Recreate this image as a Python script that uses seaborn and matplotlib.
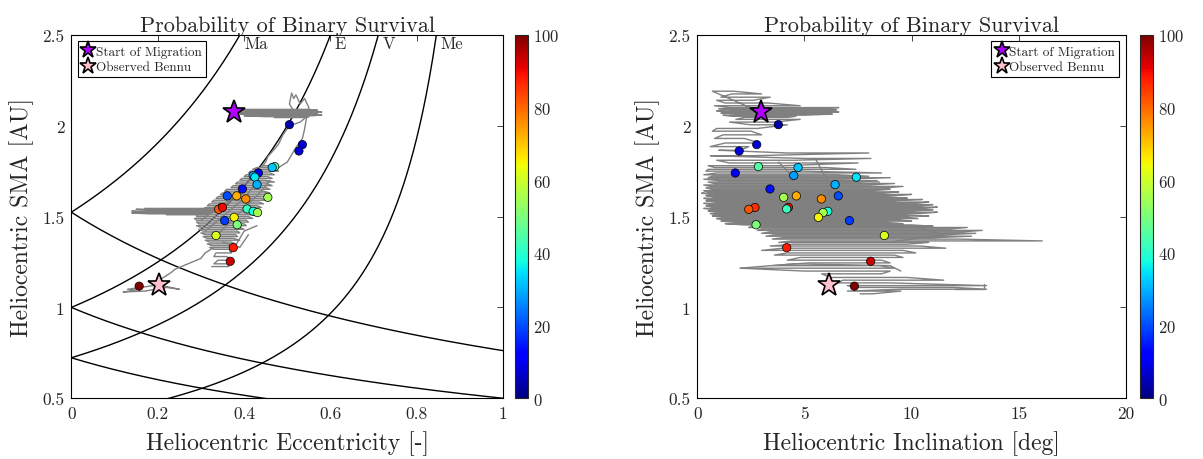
import numpy as np
import pandas as pd
import matplotlib
matplotlib.use("Agg")
import matplotlib.pyplot as plt
import seaborn as sns

# planet semi-major axes [AU] for the crossing curves
planet_names = ["Ma", "E", "V", "Me"]
planet_sma = [1.524, 1.0, 0.723, 0.387]

# survival probability points (same objects in both panels)
pt_sma = [2.006, 1.896, 1.861, 1.775, 1.770, 1.740, 1.726, 1.717, 1.676, 1.652,
          1.614, 1.614, 1.597, 1.606, 1.550, 1.540, 1.551, 1.542, 1.529, 1.522,
          1.496, 1.478, 1.455, 1.396, 1.329, 1.254, 1.117]
pt_ecc = [0.505, 0.535, 0.527, 0.471, 0.465, 0.433, 0.421, 0.425, 0.430, 0.396,
          0.361, 0.383, 0.404, 0.455, 0.348, 0.341, 0.350, 0.407, 0.421, 0.431,
          0.377, 0.355, 0.384, 0.335, 0.375, 0.368, 0.157]
pt_inc = [3.78, 2.77, 1.95, 2.85, 4.70, 1.77, 4.50, 7.42, 6.43, 3.39,
          6.58, 4.62, 5.79, 4.03, 2.69, 2.40, 4.25, 4.17, 6.09, 5.87,
          5.65, 7.10, 2.74, 8.73, 4.17, 8.09, 7.33]
pt_prob = [4, 8, 8, 45, 32, 10, 28, 35, 30, 14,
           20, 73, 76, 55, 86, 82, 90, 42, 38, 55,
           65, 18, 50, 62, 88, 93, 100]

start_sma, start_ecc, start_inc = 2.074, 0.376, 2.97
bennu_sma, bennu_ecc, bennu_inc = 1.124, 0.203, 6.15

# --- gray migration tracks, eccentricity panel ---
# horizontal sweeps near the start: sma, lowest ecc, highest ecc
top_a = [2.09, 2.085, 2.08, 2.075, 2.07, 2.065, 2.06, 2.055, 2.05, 2.045]
top_lo = [0.40, 0.39, 0.42, 0.38, 0.41, 0.39, 0.43, 0.40, 0.45, 0.47]
top_hi = [0.55, 0.57, 0.56, 0.58, 0.57, 0.55, 0.58, 0.56, 0.55, 0.54]
# main cloud sweeps
cld_a = [1.78, 1.77, 1.76, 1.75, 1.74, 1.73, 1.72, 1.71, 1.70, 1.69, 1.68, 1.67,
         1.66, 1.65, 1.64, 1.63, 1.62, 1.61, 1.60, 1.59, 1.58, 1.57, 1.56, 1.55,
         1.54, 1.53, 1.52, 1.51, 1.50, 1.49, 1.48, 1.47, 1.46, 1.45, 1.44, 1.43,
         1.42, 1.41, 1.40, 1.39, 1.38, 1.37, 1.36, 1.35, 1.34, 1.33, 1.32, 1.30,
         1.28, 1.26, 1.24, 1.225]
cld_lo = [0.44, 0.43, 0.42, 0.415, 0.41, 0.405, 0.40, 0.395, 0.39, 0.385, 0.38,
          0.375, 0.37, 0.36, 0.355, 0.35, 0.345, 0.34, 0.335, 0.33, 0.325, 0.32,
          0.315, 0.31, 0.305, 0.30, 0.295, 0.29, 0.29, 0.285, 0.29, 0.29, 0.295,
          0.29, 0.30, 0.295, 0.305, 0.30, 0.31, 0.305, 0.315, 0.31, 0.32, 0.315,
          0.325, 0.32, 0.33, 0.335, 0.33, 0.34, 0.33, 0.325]
cld_hi = [0.47, 0.48, 0.47, 0.48, 0.46, 0.47, 0.455, 0.465, 0.45, 0.47, 0.455,
          0.465, 0.45, 0.46, 0.445, 0.46, 0.45, 0.455, 0.44, 0.45, 0.435, 0.445,
          0.43, 0.44, 0.425, 0.435, 0.42, 0.43, 0.41, 0.42, 0.405, 0.41, 0.40,
          0.405, 0.39, 0.40, 0.385, 0.39, 0.38, 0.385, 0.375, 0.39, 0.37, 0.38,
          0.37, 0.375, 0.365, 0.37, 0.36, 0.37, 0.36, 0.365]
# side streak at sma ~1.53
stk_a = [1.545, 1.54, 1.535, 1.53, 1.525, 1.52, 1.515, 1.51]
stk_lo = [0.17, 0.15, 0.20, 0.14, 0.16, 0.14, 0.18, 0.22]
stk_hi = [0.33, 0.32, 0.34, 0.31, 0.33, 0.30, 0.32, 0.31]
# loose strands
spike_e = [0.52, 0.505, 0.51, 0.515, 0.52, 0.53, 0.54, 0.55, 0.545, 0.53, 0.505,
           0.49, 0.48, 0.47, 0.455, 0.45, 0.44]
spike_a = [2.06, 2.12, 2.18, 2.15, 2.17, 2.12, 2.15, 2.10, 2.05, 2.02, 2.00,
           1.95, 1.90, 1.87, 1.83, 1.80, 1.77]
side_e = [0.545, 0.54, 0.535, 0.52, 0.51, 0.50, 0.48, 0.47]
side_a = [2.05, 1.98, 1.93, 1.88, 1.84, 1.80, 1.77, 1.75]
tail_e = [0.33, 0.31, 0.30, 0.28, 0.26, 0.24, 0.23, 0.21, 0.20, 0.19, 0.16, 0.13,
          0.15, 0.12, 0.17, 0.22, 0.25, 0.21]
tail_a = [1.33, 1.30, 1.27, 1.25, 1.23, 1.21, 1.19, 1.16, 1.14, 1.12, 1.11, 1.10,
          1.095, 1.085, 1.09, 1.11, 1.10, 1.12]
diag_e = [0.31, 0.40, 0.42, 0.33, 0.44, 0.46, 0.30, 0.36, 0.38, 0.37, 0.40, 0.43,
          0.35, 0.39, 0.41]
diag_a = [1.42, 1.60, 1.66, 1.38, 1.64, 1.70, 1.48, 1.58, 1.62, 1.30, 1.42, 1.45,
          1.36, 1.33, 1.40]

# --- gray migration tracks, inclination panel: sma, lowest inc, highest inc ---
row_a = [2.19, 2.175, 2.157, 2.14, 2.125, 2.11, 2.10, 2.094, 2.088, 2.082, 2.076,
         2.07, 2.064, 2.058, 2.052, 2.046, 2.035, 2.02, 2.005, 1.985, 1.97, 1.95,
         1.93, 1.905, 1.885, 1.865, 1.85, 1.835, 1.82, 1.81, 1.795, 1.78, 1.77,
         1.76, 1.75, 1.74, 1.73, 1.722, 1.714, 1.706, 1.698, 1.69, 1.682, 1.674,
         1.666, 1.658, 1.65, 1.643, 1.636, 1.629, 1.622, 1.615, 1.608, 1.601,
         1.594, 1.587, 1.58, 1.573, 1.566, 1.559, 1.552, 1.545, 1.538, 1.531,
         1.524, 1.517, 1.51, 1.503, 1.496, 1.489, 1.482, 1.475, 1.468, 1.461,
         1.454, 1.447, 1.44, 1.432, 1.424, 1.416, 1.408, 1.40, 1.392, 1.384,
         1.376, 1.366, 1.358, 1.348, 1.338, 1.326, 1.314, 1.30, 1.288, 1.275,
         1.26, 1.245, 1.23, 1.216, 1.20, 1.185, 1.165, 1.15, 1.135, 1.12, 1.11,
         1.10, 1.09, 1.075]
row_lo = [0.7, 1.6, 1.1, 0.9, 1.3, 0.8, 1.5, 1.0, 1.8, 0.9, 1.4, 1.1, 2.0, 1.2,
          1.6, 2.2, 1.8, 1.5, 2.5, 0.9, 0.7, 1.2, 0.8, 1.3, 0.6, 1.0, 4.2, 0.6,
          5.0, 0.9, 1.5, 0.5, 0.8, 0.5, 0.4, 0.9, 0.3, 0.7, 0.5, 0.3, 1.0, 0.5,
          0.8, 0.3, 0.6, 0.4, 0.7, 0.3, 0.5, 0.2, 0.6, 0.4, 0.8, 0.3, 0.5, 0.4,
          0.9, 0.3, 0.6, 0.4, 0.7, 0.3, 0.8, 0.5, 0.9, 0.6, 1.0, 0.7, 1.2, 0.9,
          1.4, 1.1, 1.8, 1.3, 2.2, 2.6, 2.4, 3.0, 2.8, 3.4, 3.0, 3.6, 3.2, 4.0,
          3.5, 4.4, 3.8, 4.5, 3.4, 4.0, 3.0, 4.2, 3.6, 4.8, 4.2, 5.2, 3.5, 2.0,
          5.0, 5.8, 6.2, 6.8, 6.5, 7.0, 7.4, 9.5, 7.0, 7.6]
row_hi = [1.7, 3.0, 3.4, 2.6, 3.3, 4.8, 6.6, 5.8, 6.5, 6.0, 6.6, 5.5, 6.3, 5.0,
          4.6, 4.2, 4.8, 3.6, 4.2, 2.8, 2.5, 3.0, 2.2, 2.9, 2.4, 2.0, 8.0, 2.6,
          8.1, 4.5, 7.5, 4.0, 6.0, 7.4, 5.0, 8.6, 6.5, 8.0, 9.0, 6.8, 8.4, 7.6,
          9.2, 8.0, 9.6, 8.8, 9.0, 8.2, 9.4, 8.6, 10.0, 9.2, 8.8, 9.8, 10.5, 9.0,
          10.8, 10.2, 11.0, 10.4, 11.2, 10.6, 11.0, 10.0, 11.2, 10.4, 9.6, 10.8,
          9.8, 10.3, 9.4, 10.0, 8.8, 9.6, 10.0, 11.0, 12.6, 11.8, 13.3, 12.4, 13.0,
          11.6, 12.8, 11.0, 12.2, 16.1, 10.8, 9.8, 10.4, 11.6, 9.6, 10.2, 9.2,
          9.6, 8.6, 9.0, 8.5, 9.2, 9.0, 8.6, 9.8, 11.5, 9.0, 13.5, 12.0, 13.5,
          9.5, 8.2]
slant_i = [5.5, 6.3, 3.8, 4.6, 8.5, 8.0, 9.2, 7.8, 10.0, 11.5, 9.0, 2.0, 4.5, 9.0,
           9.5, 13.4, 13.4, 12.0]
slant_a = [1.82, 1.65, 1.80, 1.70, 1.69, 1.63, 1.52, 1.47, 1.45, 1.40, 1.36, 1.216,
           1.24, 1.23, 1.20, 1.13, 1.10, 1.10]
slant_seg = [0, 0, 1, 1, 1, 2, 2, 2, 3, 3, 3, 4, 4, 4, 4, 5, 5, 5]


def sweep(levels, lo, hi):
    # walk the sweeps back and forth, as the track does
    xs, ys = [], []
    for k, (lv, a, b) in enumerate(zip(levels, lo, hi)):
        pair = (a, b) if k % 2 == 0 else (b, a)
        xs += list(pair)
        ys += [lv, lv]
    return xs, ys


def tracks(parts):
    frames = []
    for k, (xs, ys) in enumerate(parts):
        frames.append(pd.DataFrame({"x": xs, "y": ys, "seg": k}))
    return pd.concat(frames, ignore_index=True)


def split(xs, ys, segs):
    out = []
    for s in sorted(set(segs)):
        idx = [j for j, v in enumerate(segs) if v == s]
        out.append(([xs[j] for j in idx], [ys[j] for j in idx]))
    return out


top_x, top_y = sweep(top_a, top_lo, top_hi)
row_x, row_y = sweep(row_a, row_lo, row_hi)
left_tracks = tracks([
    ([start_ecc] + top_x, [start_sma] + top_y),
    (spike_e, spike_a),
    (side_e, side_a),
    sweep(cld_a, cld_lo, cld_hi),
    sweep(stk_a, stk_lo, stk_hi),
    (tail_e, tail_a),
] + split(diag_e, diag_a, [0, 0, 0, 1, 1, 1, 2, 2, 2, 3, 3, 3, 4, 4, 4]))
right_tracks = tracks([([start_inc] + row_x, [start_sma] + row_y)]
                      + split(slant_i, slant_a, slant_seg))

sns.set_style("white")
plt.rcParams["font.family"] = ["cmr10", "DejaVu Serif"]
plt.rcParams["axes.formatter.use_mathtext"] = True
plt.rcParams["mathtext.fontset"] = "cm"

jet = plt.get_cmap("jet")

fig = plt.figure(figsize=(12.03, 4.60), dpi=100)
ax1 = fig.add_axes([0.0593, 0.132, 0.359, 0.790])
cax1 = fig.add_axes([0.428, 0.132, 0.0108, 0.790])
ax2 = fig.add_axes([0.5797, 0.132, 0.3561, 0.790])
cax2 = fig.add_axes([0.9477, 0.132, 0.0108, 0.790])

ecc = np.linspace(0, 1, 400)
for name, ap in zip(planet_names, planet_sma):
    sns.lineplot(x=ecc, y=ap / (1 - np.minimum(ecc, 0.999)), ax=ax1, color="black",
                 lw=1.0, sort=False, estimator=None)
    sns.lineplot(x=ecc, y=ap / (1 + ecc), ax=ax1, color="black", lw=1.0,
                 sort=False, estimator=None)
    ax1.text(1 - ap / 2.5 + 0.01, 2.455, name, fontsize=12, ha="left", va="center")

pts = pd.DataFrame({"sma": pt_sma, "ecc": pt_ecc, "inc": pt_inc, "prob": pt_prob})
norm = plt.Normalize(0, 100)

for ax, trk, xcol, sx, bx, xlim, xticks, xlabel, loc in [
    (ax1, left_tracks, "ecc", start_ecc, bennu_ecc, (0, 1),
     [0, 0.2, 0.4, 0.6, 0.8, 1], "Heliocentric Eccentricity [-]", "upper left"),
    (ax2, right_tracks, "inc", start_inc, bennu_inc, (0, 20),
     [0, 5, 10, 15, 20], "Heliocentric Inclination [deg]", "upper right"),
]:
    sns.lineplot(data=trk, x="x", y="y", units="seg", ax=ax, color="#808080", lw=1.0,
                 sort=False, estimator=None)
    sns.scatterplot(data=pts, x=xcol, y="sma", hue="prob", palette=jet, hue_norm=norm,
                    s=36, edgecolor="black", linewidth=0.5, legend=False, ax=ax, zorder=3)
    ax.plot([sx], [start_sma], marker="*", ms=17, color="#b000ff", mec="black", mew=1.2,
            ls="none", zorder=4, label="Start of Migration")
    ax.plot([bx], [bennu_sma], marker="*", ms=17, color="#ffc0cb", mec="black", mew=1.2,
            ls="none", zorder=4, label="Observed Bennu")
    ax.set_xlim(*xlim)
    ax.set_ylim(0.5, 2.5)
    ax.set_xticks(xticks)
    ax.set_xticklabels([f"{t:g}" for t in xticks])
    ax.set_yticks([0.5, 1, 1.5, 2, 2.5])
    ax.set_yticklabels(["0.5", "1", "1.5", "2", "2.5"])
    ax.tick_params(direction="in", top=True, right=True, length=4, labelsize=12.5,
                   width=0.6, pad=5)
    for sp in ax.spines.values():
        sp.set_color("black")
        sp.set_linewidth(0.8)
    ax.set_xlabel(xlabel, fontsize=17, labelpad=7)
    ax.set_ylabel("Heliocentric SMA [AU]", fontsize=17, labelpad=6)
    ax.set_title("Probability of Binary Survival", fontsize=16, pad=3)
    leg = ax.legend(loc=loc, fontsize=9.5, fancybox=False, framealpha=1,
                    edgecolor="black", handletextpad=0.1, borderpad=0.3,
                    handlelength=1.0, markerscale=0.75, labelspacing=0.25,
                    borderaxespad=0.5)
    leg.get_frame().set_linewidth(0.8)

for cax in [cax1, cax2]:
    sm = plt.cm.ScalarMappable(norm=norm, cmap=jet)
    cb = fig.colorbar(sm, cax=cax, ticks=[0, 20, 40, 60, 80, 100])
    cb.ax.tick_params(direction="in", labelsize=12, length=3, width=0.6)
    cb.outline.set_linewidth(0.8)

fig.savefig("out.png", dpi=100)
